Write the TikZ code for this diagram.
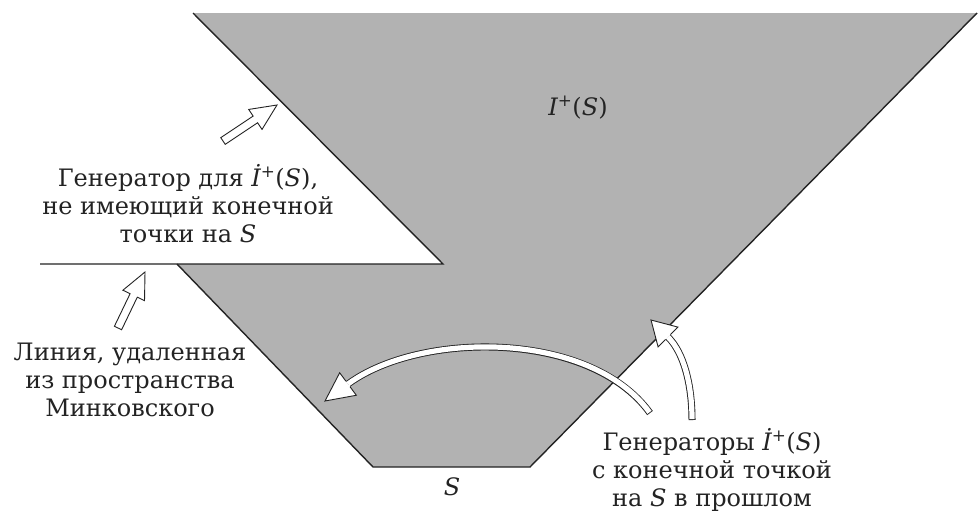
\documentclass[tikz,border=0pt]{standalone}
\usepackage{fontspec}
\setmainfont{DejaVu Serif}
\usetikzlibrary{calc}
\definecolor{regiongray}{RGB}{178,178,178}
\definecolor{ink}{RGB}{35,35,35}
\newcommand{\hollowarrow}[3]{% #1 tail, #2 tip, #3 name prefix
  \coordinate (#3b) at ($(#2)!26pt!(#1)$);
  \draw[outl] ($(#1)!4pt!90:(#2)$) -- ($(#3b)!4pt!90:(#2)$) -- ($(#3b)!12pt!90:(#2)$) -- (#2)
    -- ($(#3b)!12pt!-90:(#2)$) -- ($(#3b)!4pt!-90:(#2)$) -- ($(#1)!4pt!-90:(#2)$) -- cycle;}
\newcommand{\hollowhead}[2]{% #1 base, #2 tip
  \fill[white] ($(#1)!14pt!90:(#2)$) -- (#2) -- ($(#1)!14pt!-90:(#2)$) -- cycle;
  \draw[headline] ($(#1)!3.5pt!90:(#2)$) -- ($(#1)!14pt!90:(#2)$) -- (#2)
    -- ($(#1)!14pt!-90:(#2)$) -- ($(#1)!3.5pt!-90:(#2)$);}
\begin{document}
\begin{tikzpicture}[x=1pt,y=-1pt,
  edge/.style={draw=ink, line width=1.4pt, line join=miter},
  lbl/.style={font=\fontsize{24}{28}\selectfont, text=ink, align=center, inner sep=0pt},
  outl/.style={draw=ink, line width=0.9pt, fill=white, line join=miter},
  headline/.style={draw=ink, line width=0.9pt, line join=miter},
  shaftout/.style={draw=ink, line width=7pt},
  shaftin/.style={draw=white, line width=5.2pt, shorten <=0.9pt}]
\useasboundingbox (0,0) rectangle (979,512);
% region I+(S)
\coordinate (tl) at (193,13);
\coordinate (tr) at (977,13);
\coordinate (br) at (530,467);
\coordinate (bl) at (373,467);
\coordinate (ml) at (177,264);
\coordinate (wtip) at (443,264);
\coordinate (hl) at (40,264);
\fill[regiongray] (tl) -- (tr) -- (br) -- (bl) -- (ml) -- (wtip) -- cycle;
\draw[edge] (tr) -- (br) -- (bl) -- (ml);
\draw[edge] (tl) -- (wtip) -- (hl);
% labels
\node[lbl] (gen1) at (188,204) {Генератор для {\itshape İ}\textsuperscript{+}({\itshape S}),\\не имеющий конечной\\точки на {\itshape S}};
\node[lbl] (lineM) at (130,380) {Линия, удаленная\\из пространства\\Минковского};
\node[lbl] (gens) at (712,470) {Генераторы {\itshape İ}\textsuperscript{+}({\itshape S})\\с конечной точкой\\на {\itshape S} в прошлом};
\node[lbl] (iplus) at (578,108) {{\itshape I}\textsuperscript{+}({\itshape S})};
\node[lbl] (slabel) at (452,487) {\itshape S};
% straight hollow arrows
\coordinate (a1t) at (223,141);
\coordinate (a1p) at (277,105);
\hollowarrow{a1t}{a1p}{a1}
\coordinate (a2t) at (118,328);
\coordinate (a2p) at (145,272);
\hollowarrow{a2t}{a2p}{a2}
% curved arrow to the left
\coordinate (a3t) at (650,413);
\coordinate (a3b) at (348,384);
\coordinate (a3p) at (325,401);
\draw[shaftout] (a3t) .. controls (590,330) and (420,331) .. (a3b);
\draw[shaftin] (a3t) .. controls (590,330) and (420,331) .. (a3b);
\hollowhead{a3b}{a3p}
% curved arrow upward
\coordinate (a4t) at (692,420);
\coordinate (a4b) at (668,337);
\coordinate (a4p) at (651,320);
\draw[shaftout] (a4t) .. controls (692,385) and (684,353) .. (a4b);
\draw[shaftin] (a4t) .. controls (692,385) and (684,353) .. (a4b);
\hollowhead{a4b}{a4p}
\end{tikzpicture}
\end{document}
